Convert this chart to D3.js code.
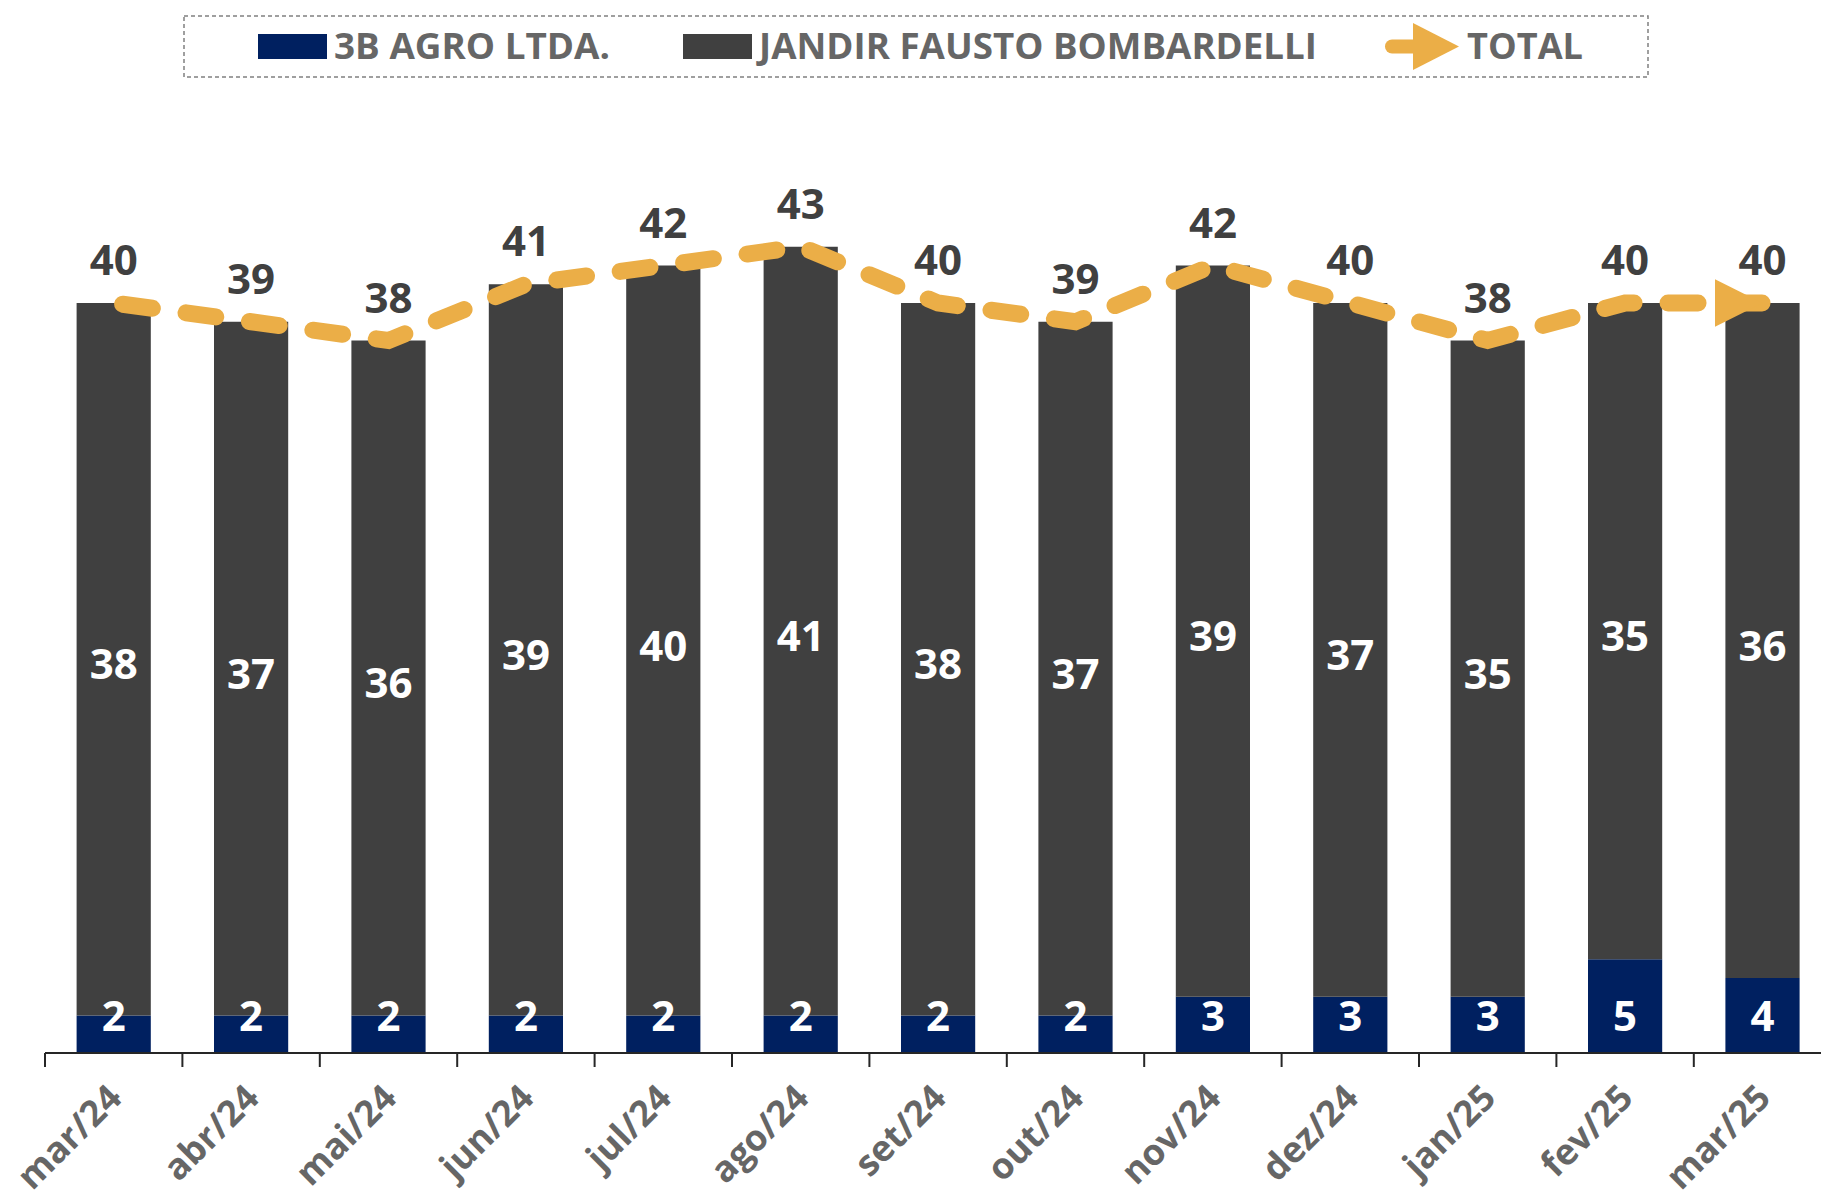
<!DOCTYPE html>
<html>
<head>
<meta charset="utf-8">
<script src="https://cdnjs.cloudflare.com/ajax/libs/d3/7.8.5/d3.min.js"></script>
<style>
    body { margin: 0; background: #fff; }
    #chart-area { width: 1821px; height: 1199px; }
    text { font-family: "Open Sans", "DejaVu Sans", sans-serif; font-weight: 700; }
</style>
</head>
<body>
<div id="chart-area"></div>
<script>

// months on the x axis
let months = ["mar/24", "abr/24", "mai/24", "jun/24", "jul/24", "ago/24", "set/24",
    "out/24", "nov/24", "dez/24", "jan/25", "fev/25", "mar/25"];

// series values
let agro = [2, 2, 2, 2, 2, 2, 2, 2, 3, 3, 3, 5, 4];
let jandir = [38, 37, 36, 39, 40, 41, 38, 37, 39, 37, 35, 35, 36];
let total = [40, 39, 38, 41, 42, 43, 40, 39, 42, 40, 38, 40, 40];

let seriesNames = ["3B AGRO LTDA.", "JANDIR FAUSTO BOMBARDELLI", "TOTAL"];

class StackChart {

    constructor(parentElement) {
        this.parentElement = parentElement;
        this.colors = {agro: "#002060", jandir: "#404040", total: "#EBAE47"};
        this.initVis();
    }

    initVis() {
        let vis = this;

        vis.width = 1821;
        vis.height = 1199;

        vis.svg = d3.select("#" + vis.parentElement).append("svg")
            .attr("width", vis.width)
            .attr("height", vis.height);

        // plot area runs a bit past the right edge, like the original
        vis.x = d3.scaleBand()
            .range([45, 45 + 13 * 137.4])
            .paddingInner(0.46)
            .paddingOuter(0.23);

        vis.y = d3.scaleLinear()
            .domain([0, 40])
            .range([1053, 303]);

        vis.drawLegend();
        vis.wrangleData();
    }

    drawLegend() {
        let vis = this;
        let lg = vis.svg.append("g").attr("class", "legend");

        lg.append("rect")
            .attr("x", 184).attr("y", 16)
            .attr("width", 1464).attr("height", 61)
            .attr("fill", "none")
            .attr("stroke", "#808080")
            .attr("stroke-width", 1.5)
            .attr("stroke-dasharray", "4,3");

        let items = [
            {x: 258, color: vis.colors.agro, name: seriesNames[0], w: 276},
            {x: 683, color: vis.colors.jandir, name: seriesNames[1], w: 558}
        ];

        items.forEach(it => {
            lg.append("rect")
                .attr("x", it.x).attr("y", 34)
                .attr("width", 69).attr("height", 25)
                .attr("fill", it.color);
            lg.append("text")
                .attr("x", it.x + 76).attr("y", 59)
                .attr("font-size", 35)
                .attr("fill", "#666666")
                .attr("textLength", it.w)
                .attr("lengthAdjust", "spacingAndGlyphs")
                .text(it.name);
        });

        // arrow marker for TOTAL
        lg.append("line")
            .attr("x1", 1392).attr("x2", 1418)
            .attr("y1", 46.5).attr("y2", 46.5)
            .attr("stroke", vis.colors.total)
            .attr("stroke-width", 14)
            .attr("stroke-linecap", "round");
        lg.append("path")
            .attr("d", "M1413,23 L1459,46.5 L1413,70 Z")
            .attr("fill", vis.colors.total);
        lg.append("text")
            .attr("x", 1467).attr("y", 59)
            .attr("font-size", 35)
            .attr("fill", "#666666")
            .attr("textLength", 116)
            .attr("lengthAdjust", "spacingAndGlyphs")
            .text(seriesNames[2]);
    }

    wrangleData() {
        let vis = this;

        vis.displayData = months.map((m, i) => ({
            month: m,
            agro: agro[i],
            jandir: jandir[i],
            total: total[i]
        }));

        vis.updateVis();
    }

    updateVis() {
        let vis = this;

        vis.x.domain(months);
        let bw = vis.x.bandwidth();
        let cx = d => vis.x(d.month) + bw / 2;

        // navy bottom segment
        vis.svg.selectAll(".bar-agro")
            .data(vis.displayData)
            .enter().append("rect")
            .attr("class", "bar-agro")
            .attr("x", d => vis.x(d.month))
            .attr("y", d => vis.y(d.agro))
            .attr("width", bw)
            .attr("height", d => vis.y(0) - vis.y(d.agro))
            .attr("fill", vis.colors.agro);

        // grey segment stacked on top
        vis.svg.selectAll(".bar-jandir")
            .data(vis.displayData)
            .enter().append("rect")
            .attr("class", "bar-jandir")
            .attr("x", d => vis.x(d.month))
            .attr("y", d => vis.y(d.agro + d.jandir))
            .attr("width", bw)
            .attr("height", d => vis.y(d.agro) - vis.y(d.agro + d.jandir))
            .attr("fill", vis.colors.jandir);

        // labels inside the bars
        vis.svg.selectAll(".lbl-jandir")
            .data(vis.displayData)
            .enter().append("text")
            .attr("class", "lbl-jandir")
            .attr("x", cx)
            .attr("y", d => (vis.y(d.agro) + vis.y(d.agro + d.jandir)) / 2 + 20)
            .attr("text-anchor", "middle")
            .attr("font-size", 42)
            .attr("fill", "white")
            .text(d => d.jandir);

        vis.svg.selectAll(".lbl-agro")
            .data(vis.displayData)
            .enter().append("text")
            .attr("class", "lbl-agro")
            .attr("x", cx)
            .attr("y", vis.y(0) - 22)
            .attr("text-anchor", "middle")
            .attr("font-size", 42)
            .attr("fill", "white")
            .text(d => d.agro);

        // total line, dashed with arrow at the end
        vis.svg.append("defs").append("marker")
            .attr("id", "arrow")
            .attr("markerUnits", "userSpaceOnUse")
            .attr("markerWidth", 48).attr("markerHeight", 48)
            .attr("viewBox", "0 0 48 48")
            .attr("refX", 48).attr("refY", 24)
            .attr("orient", "auto")
            .append("path")
            .attr("d", "M0,0 L48,24 L0,48 Z")
            .attr("fill", vis.colors.total);

        let line = d3.line()
            .x(cx)
            .y(d => vis.y(d.total));

        vis.svg.append("path")
            .datum(vis.displayData)
            .attr("d", line)
            .attr("fill", "none")
            .attr("stroke", vis.colors.total)
            .attr("stroke-width", 17)
            .attr("stroke-linecap", "round")
            .attr("stroke-dasharray", "30,34")
            .attr("stroke-dashoffset", -9)
            .attr("marker-end", "url(#arrow)");

        // total labels above
        vis.svg.selectAll(".lbl-total")
            .data(vis.displayData)
            .enter().append("text")
            .attr("class", "lbl-total")
            .attr("x", cx)
            .attr("y", d => vis.y(d.total) - 28)
            .attr("text-anchor", "middle")
            .attr("font-size", 42)
            .attr("fill", "#404040")
            .text(d => d.total);

        // x axis: baseline, ticks between categories, rotated labels
        let axis = vis.svg.append("g").attr("class", "x-axis");
        let x0 = vis.x.range()[0], x1 = vis.x.range()[1];

        axis.append("line")
            .attr("x1", x0).attr("x2", x1)
            .attr("y1", vis.y(0)).attr("y2", vis.y(0))
            .attr("stroke", "#262626")
            .attr("stroke-width", 2);

        axis.selectAll(".tick-mark")
            .data(d3.range(months.length + 1))
            .enter().append("line")
            .attr("class", "tick-mark")
            .attr("x1", i => x0 + i * vis.x.step())
            .attr("x2", i => x0 + i * vis.x.step())
            .attr("y1", vis.y(0)).attr("y2", vis.y(0) + 14)
            .attr("stroke", "#262626")
            .attr("stroke-width", 2);

        axis.selectAll(".tick-label")
            .data(vis.displayData)
            .enter().append("text")
            .attr("class", "tick-label")
            .attr("text-anchor", "end")
            .attr("font-size", 36)
            .attr("fill", "#666666")
            .attr("transform", d => `translate(${cx(d) + 10}, 1100) rotate(-45)`)
            .text(d => d.month);
    }
}

let stackChart = new StackChart("chart-area");

</script>
</body>
</html>
